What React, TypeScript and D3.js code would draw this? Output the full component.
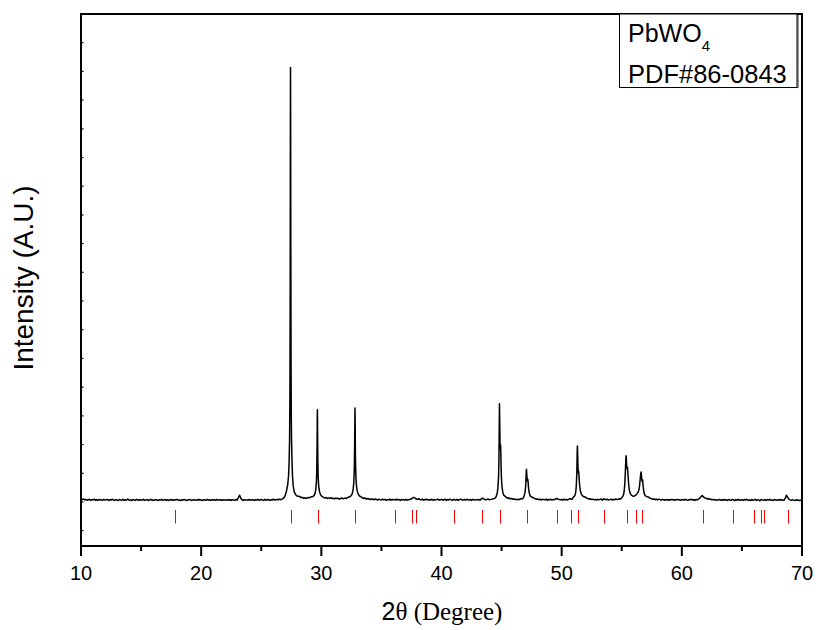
import React from "react";
import * as d3 from "d3";

// ---- data ----
const scanStart = 10;
const scanStep = 0.1;
// background counts, every 0.1° from 10.0° to 70.0°
const baselineCounts = [
  548,541,552,537,544,530,539,546,528,541,
  535,549,531,538,527,544,536,540,529,547,
  533,538,545,526,539,532,548,534,529,541,
  537,525,543,536,531,546,528,540,534,551,
  530,537,524,542,535,529,545,533,538,527,
  540,532,546,529,536,541,526,538,544,531,
  535,529,543,537,524,540,533,547,528,536,
  542,530,538,525,544,532,539,527,541,534,
  548,529,536,522,540,533,545,531,527,539,
  536,543,526,534,541,530,537,528,545,532,
  538,524,540,535,529,546,531,537,526,542,
  533,539,528,544,530,536,541,527,538,532,
  537,528,543,531,539,526,541,534,529,545,
  532,578,618,566,538,527,541,533,536,529,
  544,531,537,540,526,538,533,547,530,539,
  542,535,529,546,531,538,543,527,540,534,
  548,532,539,545,536,551,540,547,555,549,
  560,570,585,610,660,700,740,760,780,800,
  600,595,590,575,582,566,574,561,570,578,
  572,585,591,600,600,600,600,600,600,600,
  600,590,576,568,579,560,571,563,575,558,
  566,552,570,559,564,548,561,569,555,563,
  571,560,578,586,600,600,600,600,600,600,
  600,600,600,590,575,562,570,553,561,549,
  556,542,551,547,538,553,544,535,549,541,
  534,548,539,545,529,541,536,550,531,543,
  538,545,532,549,536,541,527,544,537,533,
  546,530,541,537,549,555,572,580,566,551,
  545,558,541,537,550,531,544,539,547,534,
  540,533,548,529,543,536,541,550,532,538,
  545,531,539,547,528,542,535,549,537,530,
  543,538,532,546,529,541,550,536,533,544,
  530,547,539,534,542,528,545,537,533,541,
  536,544,530,549,566,558,541,537,546,551,
  538,545,549,557,560,560,560,560,560,560,
  560,560,560,600,580,566,572,555,561,548,
  556,541,550,537,549,544,558,552,566,566,
  566,566,566,566,566,566,580,566,558,547,
  552,539,546,534,549,541,537,551,530,543,
  538,547,533,545,540,552,561,548,542,536,
  545,531,549,537,542,535,550,559,547,553,
  557,566,572,580,580,580,580,580,580,580,
  582,566,559,548,556,541,549,537,545,533,
  547,538,544,551,530,557,546,539,548,536,
  541,550,534,546,538,553,544,549,557,552,
  563,558,571,580,580,580,580,580,580,580,
  580,580,580,580,580,580,580,580,580,580,
  580,580,590,574,563,556,548,553,540,547,
  536,549,541,532,545,538,528,543,535,540,
  531,546,537,542,528,539,545,533,541,527,
  538,544,530,547,535,529,542,537,548,533,
  540,527,544,536,552,568,598,612,588,571,
  566,553,559,545,550,537,546,533,541,528,
  536,544,531,539,527,545,534,538,526,541,
  533,529,545,536,523,540,531,547,528,535,
  539,526,542,533,548,529,537,524,543,530,
  535,546,528,540,532,521,544,536,529,538,
  527,541,533,546,530,537,525,542,534,528,
  539,531,544,527,536,529,562,617,585,548,
  536,529,541,532,526,538,530,535,524,533,
  528,
];

// detailed peak profiles [2θ, counts]
const peak27: [number, number][] = [
  [26.8,560],[26.9,575],[27.0,620],[27.1,690],[27.2,800],[27.27,950],[27.32,1200],[27.36,1600],
  [27.39,2500],[27.41,4300],[27.425,7000],[27.435,8070],[27.445,7300],[27.46,5000],[27.48,2900],
  [27.5,2000],[27.52,1600],[27.55,1300],[27.6,950],[27.66,780],[27.74,680],[27.85,630],[27.97,605],
  [28.1,600],[28.2,595],
];
const peak29: [number, number][] = [
  [29.3,595],[29.4,615],[29.48,650],[29.54,720],[29.59,850],[29.62,1050],[29.645,1450],[29.66,1900],
  [29.67,2105],[29.68,1950],[29.695,1550],[29.71,1200],[29.73,980],[29.76,840],[29.8,740],
  [29.86,670],[29.93,630],[30.0,605],[30.1,592],
];
const peak32: [number, number][] = [
  [32.4,595],[32.5,615],[32.58,650],[32.65,720],[32.7,840],[32.74,1050],[32.77,1450],[32.79,1950],
  [32.8,2135],[32.81,1980],[32.825,1600],[32.84,1250],[32.87,980],[32.91,820],[32.96,720],
  [33.03,660],[33.1,625],[33.2,600],[33.3,590],
];
const peak44: [number, number][] = [
  [44.4,560],[44.5,575],[44.58,610],[44.65,670],[44.7,760],[44.75,950],[44.78,1250],[44.805,1800],
  [44.825,2210],[44.845,1900],[44.87,1500],[44.89,1420],[44.915,1495],[44.935,1400],[44.96,1100],
  [45.0,870],[45.05,740],[45.1,670],[45.18,620],[45.3,598],
];
const peak47: [number, number][] = [
  [46.8,566],[46.88,610],[46.95,670],[47.0,760],[47.03,900],[47.055,1030],[47.07,1071],[47.09,1010],
  [47.12,900],[47.15,870],[47.18,896],[47.21,840],[47.25,730],[47.3,660],[47.38,610],[47.46,590],
  [47.6,578],
];
const peak51: [number, number][] = [
  [50.95,578],[51.0,590],[51.08,605],[51.13,630],[51.18,690],[51.22,790],[51.26,1000],[51.29,1350],
  [51.31,1477],[51.33,1350],[51.36,1080],[51.39,1000],[51.42,1029],[51.45,920],[51.5,780],
  [51.56,690],[51.65,630],[51.75,605],[51.85,590],[51.95,585],
];
const peak55: [number, number][] = [
  [55.0,575],[55.08,595],[55.15,630],[55.2,690],[55.25,800],[55.3,1020],[55.34,1250],[55.36,1303],
  [55.38,1250],[55.41,1120],[55.45,1080],[55.48,1106],[55.52,980],[55.57,820],[55.63,710],[55.7,650],
  [55.8,620],[55.9,605],[56.0,600],[56.1,610],[56.2,625],[56.3,650],[56.4,690],[56.47,760],
  [56.53,880],[56.58,990],[56.61,1024],[56.64,960],[56.68,870],[56.71,860],[56.74,884],[56.77,800],
  [56.82,700],[56.88,640],[56.95,610],[57.05,595],[57.2,588],
];
const peakProfiles = [peak27, peak29, peak32, peak44, peak47, peak51, peak55];

// PDF#86-0843 reference line positions (2θ)
const refLines = [
  17.81, 27.46, 29.70, 32.80, 36.13, 37.57, 37.90, 41.0, 43.39, 44.86, 47.1, 49.63, 50.79,
  51.40, 53.5, 55.41, 56.16, 56.66, 61.76, 64.22, 65.97, 66.58, 66.80, 68.85,
];

const xMajorTicks = [10, 20, 30, 40, 50, 60, 70];
const xMinorTicks = [15, 25, 35, 45, 55, 65];
const yTicks = [0, 500, 1000, 1500, 2000, 2500, 3000, 3500, 4000, 4500, 5000, 5500, 6000, 6500, 7000, 7500, 8000, 8500, 9000];

const legendFormula = "PbWO";
const legendSub = "4";
const legendCard = "PDF#86-0843";

// ---- layout ----
const W = 819, H = 630;
const L = 81, R = 802, T = 14, B = 546;

export default function App() {
  const x = d3.scaleLinear().domain([10, 70]).range([L, R]);
  const y = d3.scaleLinear().domain([-267, 9000]).range([B, T]);

  const windows = peakProfiles.map((p) => [p[0][0], p[p.length - 1][0]]);
  const pts: [number, number][] = [];
  baselineCounts.forEach((v, i) => {
    const tt = +(scanStart + i * scanStep).toFixed(2);
    if (!windows.some(([a, b]) => tt >= a && tt <= b)) pts.push([tt, v]);
  });
  peakProfiles.forEach((p) => p.forEach((d) => pts.push(d)));
  pts.sort((a, b) => a[0] - b[0]);

  const line = d3
    .line<[number, number]>()
    .x((d) => x(d[0]))
    .y((d) => y(d[1]));

  const arial = "Arial, 'Liberation Sans', sans-serif";
  const serif = "'Times New Roman', 'Liberation Serif', serif";

  return (
    <svg width={W} height={H} style={{ position: "absolute", left: 0, top: 0, background: "#fff" }}>
      <rect x={0} y={0} width={W} height={H} fill="#fff" />
      {/* spectrum */}
      <path d={line(pts) || ""} fill="none" stroke="#000" strokeWidth={1.5} strokeLinejoin="round" />
      {/* reference lines */}
      {refLines.map((r, i) => (
        <line
          key={i}
          x1={Math.round(x(r)) + 0.5}
          x2={Math.round(x(r)) + 0.5}
          y1={510}
          y2={523.5}
          stroke="#ff0000"
          strokeWidth={1}
        />
      ))}
      {/* y ticks (inside) */}
      {yTicks.map((t) => (
        <line key={t} x1={L} x2={L + 2.5} y1={y(t)} y2={y(t)} stroke="#000" strokeWidth={1.2} />
      ))}
      {/* x ticks */}
      {xMajorTicks.map((t) => (
        <line key={"M" + t} x1={x(t)} x2={x(t)} y1={B} y2={B + 10} stroke="#000" strokeWidth={2} />
      ))}
      {xMinorTicks.map((t) => (
        <line key={"m" + t} x1={x(t)} x2={x(t)} y1={B} y2={B + 5} stroke="#000" strokeWidth={2} />
      ))}
      {xMajorTicks.map((t) => (
        <text key={"l" + t} x={x(t)} y={580} textAnchor="middle" fontFamily={arial} fontSize={20} fill="#000">
          {t}
        </text>
      ))}
      {/* frame */}
      <rect x={L} y={T} width={R - L} height={B - T} fill="none" stroke="#000" strokeWidth={2} />
      {/* legend box */}
      <rect x={797} y={T + 1} width={2} height={73} fill="#9a9a9a" />
      <rect x={619.5} y={T} width={177.5} height={73.5} fill="#fff" stroke="#000" strokeWidth={1} />
      <text x={628} y={42} fontFamily={arial} fontSize={25} fill="#000">
        {legendFormula}
        <tspan fontSize={15} dy={9}>{legendSub}</tspan>
      </text>
      <text x={628} y={82.5} fontFamily={arial} fontSize={25.5} fill="#000">
        {legendCard}
      </text>
      {/* axis titles */}
      <text x={381.5} y={620} fontSize={25} fill="#000">
        <tspan fontFamily={arial}>2</tspan>
        <tspan fontFamily={serif}>θ (Degree)</tspan>
      </text>
      <text
        transform={`translate(33, 278) rotate(-90)`}
        textAnchor="middle"
        fontFamily={arial}
        fontSize={28}
        fill="#000"
      >
        Intensity (A.U.)
      </text>
    </svg>
  );
}
